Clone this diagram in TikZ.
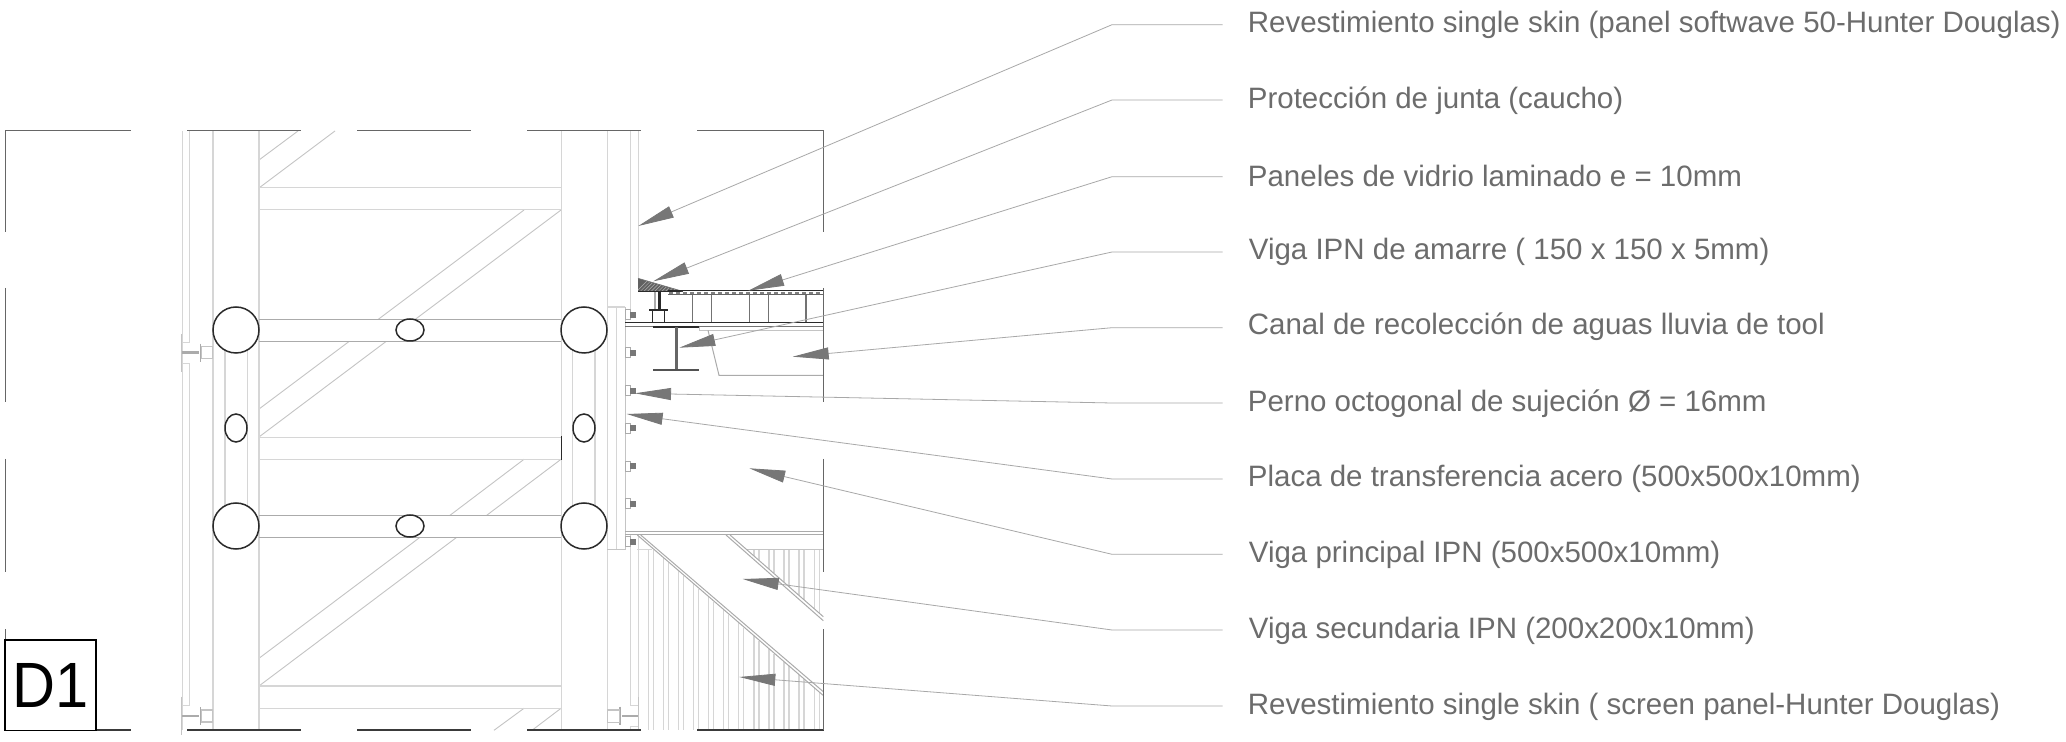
\documentclass[tikz,border=0pt]{standalone}
\usepackage{fontspec}
\setmainfont{Liberation Sans}
\usetikzlibrary{arrows.meta}
\definecolor{framec}{HTML}{666666}
\definecolor{framed}{HTML}{3A3A3A}
\definecolor{light}{HTML}{D6D6D6}
\definecolor{mid}{HTML}{C4C4C4}
\definecolor{beamc}{HTML}{ABABAB}
\definecolor{leaderc}{HTML}{A8A8A8}
\definecolor{arrowc}{HTML}{777777}
\definecolor{txtc}{HTML}{6C6C6C}
\definecolor{darkc}{HTML}{2A2A2A}
\tikzset{
  frameline/.style={framec,line width=0.75pt},
  frameb/.style={framed,line width=0.6pt},
  lightline/.style={light,line width=0.65pt},
  thinline/.style={mid,line width=0.45pt},
  beamline/.style={beamc,line width=0.45pt},
  holeline/.style={darkc,line width=0.75pt,fill=white},
  leader/.style={leaderc,line width=0.4pt,-{Triangle[length=18pt,width=6pt,fill=arrowc,color=arrowc]}},
  lab/.style={anchor=base west,inner sep=0pt,text=txtc,font=\fontsize{14.74pt}{16pt}\selectfont},
}
\begin{document}
\begin{tikzpicture}[x=0.5pt,y=-0.5pt,line cap=butt]
\useasboundingbox (0,0) rectangle (2066,742);
\fill[white] (0,0) rectangle (2066,742);

% --- diagonals of the truss
\foreach \a/\b/\c/\d in {259/160/298/131,259/188/335/131,
  259/409/349/341.5,378/319.5/524/210,
  259/437/386/341.5,415/319.5/561/210,
  420/537.3/259/658.3,456.7/537.3/259/686,
  450/515.3/524/459.3,486.7/515.3/561/459.3,
  494/730.3/524/708.3,532/730.3/561/708.3}
  {\draw[thinline] (\a,\b) -- (\c,\d);}

% --- columns
\foreach \x in {213,259,561.3,607.3}{\draw[lightline] (\x,131) -- (\x,730);}
% --- horizontal bands
\foreach \y in {187.7,209.7,437.3,459.3,686,708.3}{\draw[lightline] (259,\y) -- (561.3,\y);}
\foreach \y in {319.3,341.3,515.3,537.3}{\draw[beamline] (259,\y) -- (561.3,\y);}
\draw[darkc,line width=0.8pt] (561.3,436) -- (561.3,460);
% --- inner verticals
\foreach \x in {225,247.6,572.7,595}{\draw[lightline] (\x,340) -- (\x,516);}

% --- left skin
\draw[lightline] (182.5,131) -- (182.5,730);
\draw[lightline] (189.7,131) -- (189.7,342.3) -- (182.5,342.3);
\draw[lightline] (182.5,363.3) -- (189.7,363.3) -- (189.7,705.7) -- (182.5,705.7);
\foreach \y/\ya/\yb in {352.7/334/371.7,716/696.7/735}{
  \draw[mid,line width=0.6pt] (181.5,\ya) -- (181.5,\yb);
  \draw[beamc,line width=1.2pt] (182,\y) -- (199,\y);
  \draw[beamc,line width=0.6pt] (200.3,\y-9) -- (200.3,\y+9);
  \draw[mid,line width=0.6pt] (201.7,\y-6) rectangle (212.7,\y+6);
}

% --- right skin
\draw[lightline] (630.7,131) -- (630.7,310);
\draw[lightline] (638.3,131) -- (638.3,278);
\draw[lightline] (630.7,535) -- (630.7,705.7) -- (638.3,705.7);
\draw[lightline] (638.3,535) -- (638.3,705.7);
\draw[mid,line width=0.6pt] (638.3,697) -- (638.3,730);
\draw[lightline] (638.3,726.3) -- (630.7,726.3) -- (630.7,730);
\draw[beamc,line width=1.2pt] (622,716) -- (638,716);
\draw[beamc,line width=0.6pt] (620,706.7) -- (620,725);
\draw[mid,line width=0.6pt] (607.3,710) rectangle (619.3,722.3);

% --- transfer plate
\draw[lightline] (607.3,307) -- (625.3,307);
\draw[lightline] (616.7,307) -- (616.7,549.3);
\draw[mid,line width=0.55pt] (625.3,307) -- (625.3,549.3) -- (607.3,549.3);
% --- bolts
\foreach \y in {315,353,390.7,428.3,466.3,504,541.7}{
  \draw[beamc,line width=0.5pt] (625.3,\y-5) rectangle (630,\y+5);
  \fill[arrowc] (630,\y-3) rectangle (636,\y+3);
}

% --- circles and ellipses
\foreach \x in {236,584}{\foreach \y in {330,526}{\draw[holeline] (\x,\y) circle[radius=23];}}
\foreach \y in {330,526}{\draw[holeline] (410,\y) ellipse[x radius=14,y radius=11];}
\foreach \x in {236,584}{\draw[holeline] (\x,428) ellipse[x radius=11,y radius=14];}

% --- screen panel verticals
\foreach \k in {0,...,11}{
  \pgfmathsetmacro{\xa}{648.3+15.08*\k}
  \pgfmathsetmacro{\xb}{\xa+5}
  \pgfmathsetmacro{\ya}{max(549.3,535+0.86*(\xa-637.3)+1)}
  \pgfmathsetmacro{\yb}{max(549.3,535+0.86*(\xb-637.3)+1)}
  \draw[lightline] (\xa,\ya) -- (\xa,730);
  \draw[lightline] (\xb,\yb) -- (\xb,730);
}
\foreach \k in {7,...,11}{
  \pgfmathsetmacro{\xa}{648.3+15.08*\k}
  \pgfmathsetmacro{\xb}{\xa+5}
  \pgfmathsetmacro{\ya}{535+0.875*(\xa-730)}
  \pgfmathsetmacro{\yb}{535+0.875*(\xb-730)}
  \draw[lightline] (\xa,549.3) -- (\xa,\ya);
  \draw[lightline] (\xb,549.3) -- (\xb,\yb);
}
\draw[lightline] (637,549.3) -- (652,549.3);
\draw[mid,line width=0.55pt] (747,549.3) -- (823.7,549.3);
% --- secondary beams
\draw[beamc,line width=0.5pt] (637.3,535) -- (823.3,695.5);
\draw[beamc,line width=0.5pt] (640.7,535) -- (823.3,691.7);
\draw[beamc,line width=0.5pt] (726,535) -- (823.3,620.7);
\draw[beamc,line width=0.5pt] (730,535) -- (823.3,616.7);
\draw[beamc,line width=0.5pt] (625.3,531.3) -- (823.7,531.3);
\draw[beamc,line width=0.5pt] (625.3,534.4) -- (823.7,534.4);

% --- roof detail
\begin{scope}
  \clip (638,278.3) -- (682.7,291.3) -- (638,291.3) -- cycle;
  \fill[black!62] (638,278) rectangle (683,292);
  \foreach \i in {0,...,16}{\draw[white!70!black,line width=0.25pt] (636+3.6*\i,292) -- (636+3.6*\i+14,278);}
\end{scope}
\draw[darkc,line width=0.8pt] (638,291.5) -- (683,291.5);
\draw[black!55,line width=0.3pt] (638,278.3) -- (682.7,291.3);
\draw[beamc,line width=0.7pt] (655,292) -- (655,310);
\draw[darkc,line width=1.2pt] (659.5,292) -- (659.5,310);
\draw[darkc,line width=0.9pt] (649.3,310) -- (668,310);
\draw[darkc,line width=0.6pt] (652.3,310) rectangle (664.3,322.5);
% glass panel
\draw[darkc,line width=0.5pt] (668.3,291) -- (823.7,291);
\draw[black!60,line width=0.5pt] (668.3,294.6) -- (823.7,294.6);
\draw[black!50,line width=1.1pt,dash pattern=on 2.2pt off 1.3pt] (669,292.8) -- (823.7,292.8);
\foreach \x in {692.7,711.7,749.7,768.3,806}{\draw[black!55,line width=0.6pt] (\x,294.6) -- (\x,322.7);}
% slab
\draw[darkc,line width=0.55pt] (625.3,322.7) -- (823.7,322.7);
\draw[black!55,line width=0.5pt] (625.3,326.4) -- (823.7,326.4);
% channel
\draw[mid,line width=0.5pt] (699.3,327) -- (699.3,330.3) -- (823.7,330.3);
\draw[beamc,line width=0.5pt] (708,330.3) -- (719,375.3) -- (823.7,375.3);
% IPN
\draw[darkc,line width=1pt] (653.3,327.3) -- (699.3,327.3);
\draw[black!60,line width=1.5pt] (676.7,327.5) -- (676.7,370);
\draw[black!68,line width=1.1pt] (653.3,370.3) -- (699.3,370.3);

% --- frame
\foreach \a/\b in {5/131,187/301,357/471,527/641,697/824}{
  \draw[frameline] (\a,130.7) -- (\b,130.7);
  \draw[frameb] (\a,730) -- (\b,730);
}
\foreach \a/\b in {130.3/232,288/402,459/572,629/730.3}{
  \draw[frameline] (5.3,\a) -- (5.3,\b);
  \draw[frameline] (823.7,\a) -- (823.7,\b);
}

% --- D1 tag
\node[draw=black,line width=0.8pt,fill=white,minimum width=45.5pt,minimum height=45.3pt,inner sep=0pt,
  font=\fontsize{32pt}{34pt}\selectfont,text=black] (tag) at (50.6,685) {\scalebox{0.93}[1]{D1}};

% --- labels
\node[lab] (t1) at (1247.5,32.3) {Revestimiento single skin (panel softwave 50-Hunter Douglas)};
\node[lab] (t2) at (1247.5,108.3) {Protección de junta (caucho)};
\node[lab] (t3) at (1247.5,186.7) {Paneles de vidrio laminado e = 10mm};
\node[lab] (t4) at (1248.5,260) {Viga IPN de amarre ( 150 x 150 x 5mm)};
\node[lab] (t5) at (1247.5,335) {Canal de recolección de aguas lluvia de tool};
\node[lab] (t6) at (1247.5,411.7) {Perno octogonal de sujeción Ø = 16mm};
\node[lab] (t7) at (1247.5,486.7) {Placa de transferencia acero (500x500x10mm)};
\node[lab] (t8) at (1248.5,562.7) {Viga principal IPN (500x500x10mm)};
\node[lab] (t9) at (1248.5,638.3) {Viga secundaria IPN (200x200x10mm)};
\node[lab] (t10) at (1247.5,714) {Revestimiento single skin ( screen panel-Hunter Douglas)};

% --- leaders
\foreach \n/\ey/\tx/\ty in {1/24.7/638.3/226,2/100/653.3/281.3,3/176.7/748.3/290.7,4/252/679.3/347.7,
  5/327.7/792.7/356.7,6/403/635/393.3,7/479/626.7/414,8/554.3/749.3/468.3,9/630/742.7/579,10/706/739.3/677}{
  \coordinate (s\n) at (1222.5,\ey);
  \coordinate (e\n) at (1112,\ey);
  \coordinate (p\n) at (\tx,\ty);
  \draw[leader] (s\n) -- (e\n) -- (p\n);
}
\end{tikzpicture}
\end{document}
